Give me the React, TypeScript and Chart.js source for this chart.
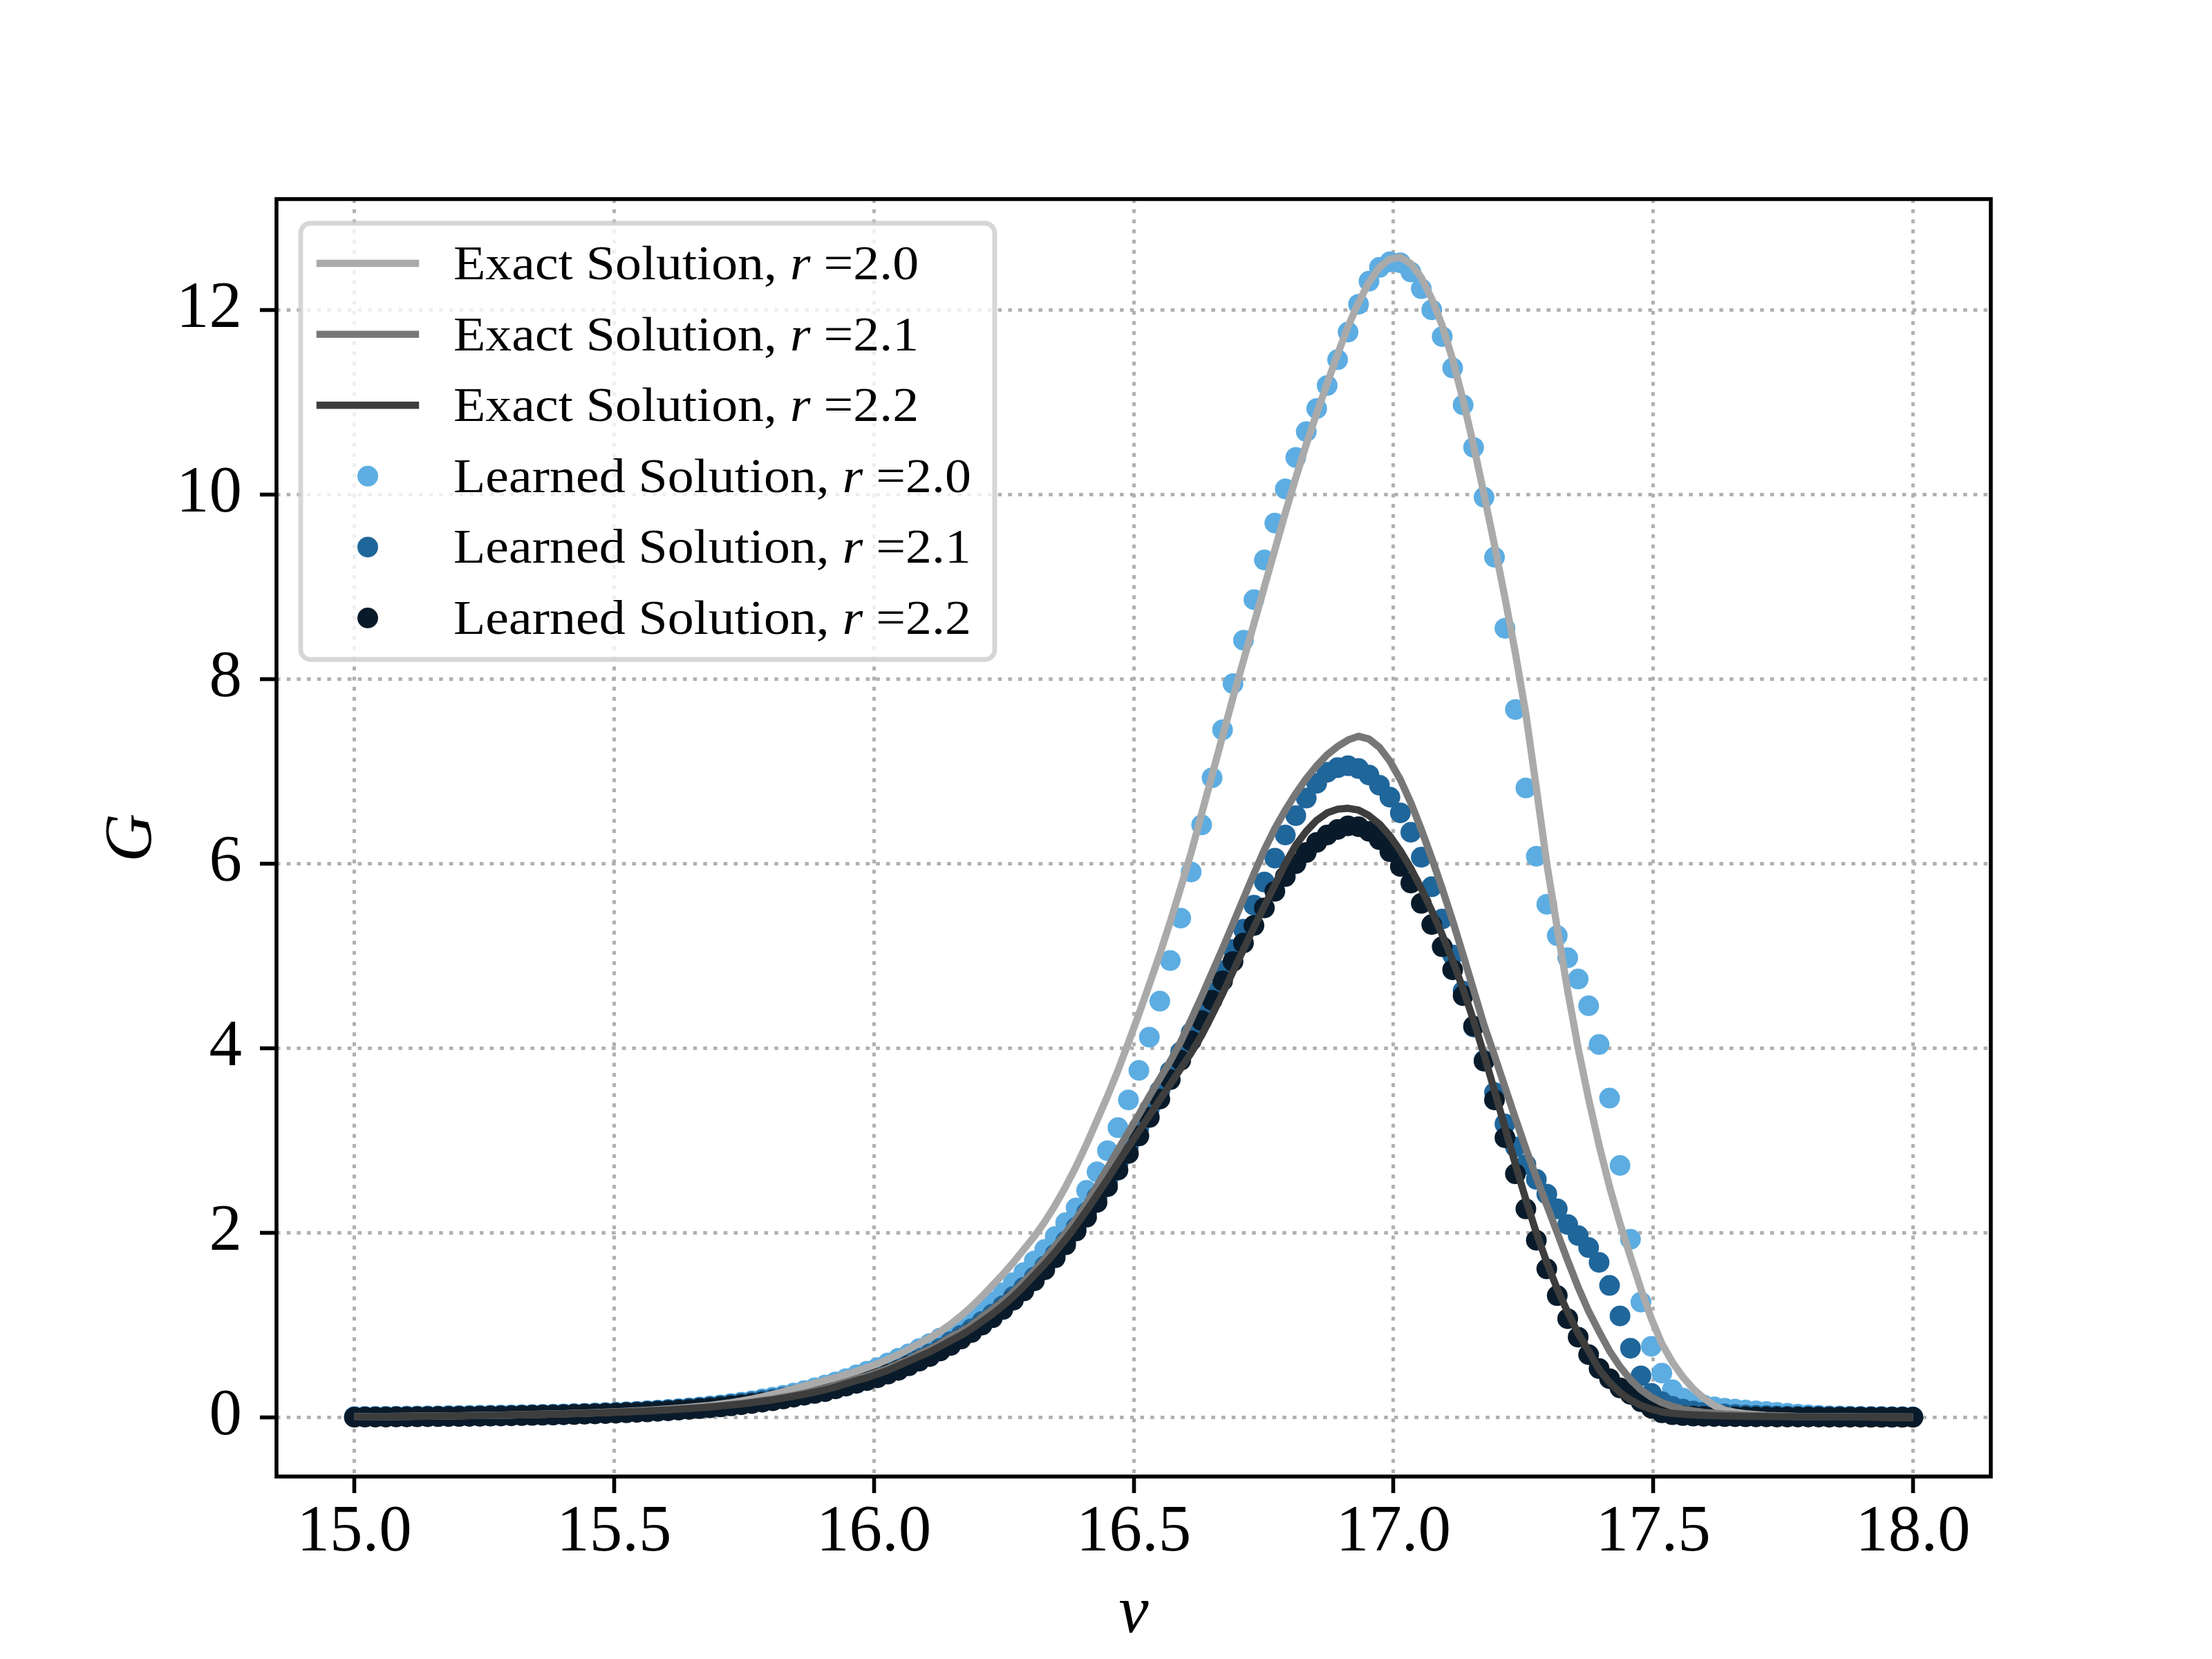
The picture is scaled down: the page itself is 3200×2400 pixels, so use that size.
import React, { useEffect, useRef } from "react";
import { Chart, registerables } from "chart.js";

Chart.register(...registerables);

const FONT = "'Liberation Serif', 'Times New Roman', serif";

// sample grid (150 evenly spaced frequencies)
const NU_START = 15;
const NU_END = 18;
const N_SAMPLES = 150;
const nu: number[] = Array.from(
  { length: N_SAMPLES },
  (_, i) => NU_START + ((NU_END - NU_START) * i) / (N_SAMPLES - 1)
);

const xTickValues = [15, 15.5, 16, 16.5, 17, 17.5, 18];
const yTickValues = [0, 2, 4, 6, 8, 10, 12];
const rLabels = ["2.0", "2.1", "2.2"];

// Exact solutions
const exactR20 = [
  0.008, 0.009, 0.009, 0.01, 0.011, 0.012, 0.013, 0.014, 0.015, 0.017,
  0.018, 0.02, 0.021, 0.023, 0.025, 0.027, 0.029, 0.032, 0.034, 0.037,
  0.04, 0.044, 0.047, 0.051, 0.056, 0.06, 0.066, 0.072, 0.078, 0.085,
  0.092, 0.1, 0.11, 0.12, 0.13, 0.145, 0.16, 0.18, 0.2, 0.225,
  0.25, 0.28, 0.31, 0.34, 0.37, 0.4, 0.43, 0.465, 0.5, 0.54,
  0.58, 0.63, 0.68, 0.74, 0.8, 0.86, 0.93, 1.01, 1.1, 1.2,
  1.31, 1.43, 1.55, 1.68, 1.82, 1.96, 2.12, 2.3, 2.5, 2.72,
  2.96, 3.22, 3.48, 3.76, 4.06, 4.37, 4.69, 5.02, 5.37, 5.74,
  6.12, 6.54, 6.96, 7.38, 7.8, 8.2, 8.6, 9.0, 9.4, 9.8,
  10.18, 10.54, 10.88, 11.2, 11.52, 11.82, 12.08, 12.3, 12.46, 12.55,
  12.57, 12.5, 12.35, 12.12, 11.83, 11.46, 11.02, 10.53, 10.0, 9.45,
  8.88, 8.28, 7.62, 6.82, 6.0, 5.3, 4.62, 4.0, 3.45, 2.95,
  2.5, 2.1, 1.74, 1.39, 1.07, 0.8, 0.6, 0.44, 0.31, 0.21,
  0.13, 0.08, 0.055, 0.04, 0.03, 0.022, 0.017, 0.013, 0.011, 0.009,
  0.008, 0.007, 0.006, 0.006, 0.005, 0.005, 0.004, 0.004, 0.004, 0.003,
];

const exactR21 = [
  0.006, 0.007, 0.008, 0.009, 0.01, 0.012, 0.013, 0.014, 0.015, 0.017,
  0.018, 0.02, 0.021, 0.023, 0.025, 0.027, 0.029, 0.032, 0.034, 0.037,
  0.04, 0.043, 0.046, 0.05, 0.055, 0.059, 0.063, 0.068, 0.074, 0.08,
  0.086, 0.093, 0.1, 0.109, 0.119, 0.129, 0.141, 0.153, 0.168, 0.184,
  0.2, 0.22, 0.24, 0.263, 0.289, 0.315, 0.347, 0.383, 0.42, 0.45,
  0.49, 0.53, 0.58, 0.63, 0.69, 0.74, 0.8, 0.87, 0.93, 1.0,
  1.09, 1.17, 1.26, 1.36, 1.47, 1.59, 1.72, 1.86, 2.0, 2.15,
  2.32, 2.51, 2.7, 2.9, 3.09, 3.28, 3.48, 3.67, 3.86, 4.07,
  4.31, 4.56, 4.82, 5.08, 5.35, 5.62, 5.89, 6.15, 6.38, 6.58,
  6.76, 6.92, 7.06, 7.18, 7.27, 7.34, 7.38, 7.35, 7.26, 7.11,
  6.91, 6.66, 6.37, 6.06, 5.73, 5.38, 5.01, 4.63, 4.25, 3.92,
  3.58, 3.24, 2.91, 2.6, 2.3, 2.0, 1.7, 1.41, 1.15, 0.93,
  0.72, 0.55, 0.41, 0.3, 0.22, 0.16, 0.12, 0.09, 0.07, 0.055,
  0.045, 0.036, 0.03, 0.025, 0.021, 0.018, 0.015, 0.013, 0.011, 0.01,
  0.009, 0.008, 0.007, 0.006, 0.006, 0.005, 0.005, 0.004, 0.004, 0.004,
];

const exactR22 = [
  0.006, 0.007, 0.008, 0.009, 0.01, 0.011, 0.012, 0.013, 0.014, 0.016,
  0.017, 0.019, 0.02, 0.022, 0.024, 0.026, 0.028, 0.03, 0.032, 0.035,
  0.038, 0.041, 0.044, 0.048, 0.052, 0.056, 0.06, 0.065, 0.07, 0.076,
  0.082, 0.089, 0.096, 0.104, 0.113, 0.123, 0.134, 0.146, 0.16, 0.175,
  0.19, 0.21, 0.23, 0.25, 0.275, 0.3, 0.33, 0.365, 0.4, 0.43,
  0.47, 0.51, 0.56, 0.61, 0.66, 0.71, 0.77, 0.83, 0.89, 0.96,
  1.04, 1.12, 1.21, 1.31, 1.42, 1.54, 1.66, 1.79, 1.93, 2.08,
  2.24, 2.41, 2.58, 2.76, 2.93, 3.1, 3.27, 3.44, 3.61, 3.78,
  3.95, 4.14, 4.36, 4.59, 4.83, 5.07, 5.31, 5.54, 5.77, 6.0,
  6.2, 6.35, 6.47, 6.55, 6.59, 6.6, 6.58, 6.52, 6.43, 6.3,
  6.14, 5.95, 5.73, 5.49, 5.23, 4.95, 4.64, 4.3, 3.93, 3.54,
  3.14, 2.74, 2.36, 2.0, 1.68, 1.39, 1.14, 0.91, 0.72, 0.52,
  0.38, 0.27, 0.19, 0.13, 0.09, 0.06, 0.045, 0.035, 0.028, 0.023,
  0.019, 0.016, 0.014, 0.012, 0.011, 0.01, 0.009, 0.008, 0.007, 0.007,
  0.006, 0.006, 0.005, 0.005, 0.005, 0.004, 0.004, 0.004, 0.003, 0.003,
];

// Learned solutions
const learnedR20 = [
  0.01, 0.011, 0.012, 0.013, 0.014, 0.015, 0.016, 0.017, 0.018, 0.02,
  0.021, 0.022, 0.024, 0.025, 0.027, 0.028, 0.03, 0.032, 0.034, 0.036,
  0.038, 0.041, 0.044, 0.048, 0.052, 0.056, 0.061, 0.066, 0.072, 0.079,
  0.086, 0.094, 0.103, 0.113, 0.124, 0.136, 0.15, 0.165, 0.18, 0.2,
  0.22, 0.24, 0.265, 0.29, 0.32, 0.35, 0.385, 0.42, 0.46, 0.5,
  0.54, 0.59, 0.64, 0.69, 0.745, 0.8, 0.86, 0.92, 0.99, 1.07,
  1.15, 1.25, 1.35, 1.46, 1.57, 1.695, 1.82, 1.96, 2.11, 2.27,
  2.46, 2.66, 2.89, 3.14, 3.44, 3.76, 4.12, 4.51, 4.95, 5.41,
  5.91, 6.42, 6.93, 7.45, 7.95, 8.42, 8.86, 9.29, 9.69, 10.06,
  10.4, 10.68, 10.93, 11.18, 11.46, 11.76, 12.06, 12.31, 12.46, 12.52,
  12.51, 12.41, 12.23, 12.0, 11.71, 11.37, 10.97, 10.51, 9.97, 9.32,
  8.55, 7.67, 6.82, 6.08, 5.56, 5.22, 4.98, 4.75, 4.46, 4.04,
  3.46, 2.73, 1.93, 1.25, 0.77, 0.48, 0.3, 0.21, 0.16, 0.135,
  0.115, 0.1, 0.09, 0.08, 0.072, 0.064, 0.055, 0.045, 0.035, 0.028,
  0.022, 0.018, 0.015, 0.013, 0.011, 0.01, 0.009, 0.008, 0.007, 0.006,
];

const learnedR21 = [
  0.004, 0.005, 0.005, 0.006, 0.007, 0.008, 0.009, 0.01, 0.011, 0.012,
  0.013, 0.014, 0.016, 0.018, 0.019, 0.021, 0.023, 0.026, 0.028, 0.031,
  0.034, 0.037, 0.041, 0.045, 0.049, 0.053, 0.058, 0.063, 0.069, 0.075,
  0.082, 0.09, 0.098, 0.107, 0.117, 0.128, 0.14, 0.153, 0.167, 0.183,
  0.2, 0.22, 0.24, 0.26, 0.285, 0.31, 0.34, 0.37, 0.4, 0.43,
  0.46, 0.5, 0.54, 0.59, 0.64, 0.69, 0.75, 0.82, 0.89, 0.96,
  1.04, 1.12, 1.21, 1.31, 1.41, 1.52, 1.64, 1.77, 1.91, 2.06,
  2.22, 2.39, 2.56, 2.75, 2.94, 3.14, 3.34, 3.54, 3.75, 3.96,
  4.17, 4.38, 4.6, 4.84, 5.07, 5.29, 5.55, 5.8, 6.06, 6.31,
  6.52, 6.71, 6.87, 6.99, 7.04, 7.06, 7.03, 6.96, 6.85, 6.72,
  6.55, 6.34, 6.07, 5.75, 5.4, 5.01, 4.62, 4.23, 3.87, 3.52,
  3.18, 2.93, 2.74, 2.58, 2.42, 2.26, 2.09, 1.97, 1.84, 1.68,
  1.43, 1.1, 0.75, 0.45, 0.26, 0.17, 0.12, 0.09, 0.07, 0.055,
  0.045, 0.038, 0.032, 0.027, 0.023, 0.02, 0.018, 0.016, 0.014, 0.012,
  0.011, 0.01, 0.009, 0.008, 0.008, 0.007, 0.007, 0.006, 0.006, 0.005,
];

const learnedR22 = [
  0.003, 0.004, 0.004, 0.005, 0.006, 0.006, 0.007, 0.008, 0.009, 0.01,
  0.011, 0.012, 0.013, 0.015, 0.016, 0.018, 0.02, 0.022, 0.024, 0.026,
  0.029, 0.032, 0.035, 0.038, 0.042, 0.046, 0.05, 0.055, 0.06, 0.066,
  0.072, 0.079, 0.087, 0.095, 0.104, 0.114, 0.125, 0.137, 0.15, 0.165,
  0.18, 0.2, 0.22, 0.24, 0.26, 0.28, 0.31, 0.34, 0.37, 0.4,
  0.43, 0.47, 0.51, 0.56, 0.61, 0.66, 0.72, 0.78, 0.85, 0.92,
  1.0, 1.08, 1.17, 1.27, 1.37, 1.48, 1.6, 1.73, 1.87, 2.02,
  2.17, 2.33, 2.5, 2.68, 2.86, 3.05, 3.25, 3.45, 3.66, 3.87,
  4.08, 4.3, 4.52, 4.73, 4.94, 5.14, 5.33, 5.52, 5.7, 5.86,
  6.0, 6.12, 6.23, 6.31, 6.37, 6.41, 6.4, 6.35, 6.26, 6.13,
  5.97, 5.79, 5.57, 5.34, 5.1, 4.85, 4.57, 4.24, 3.86, 3.44,
  3.03, 2.64, 2.26, 1.92, 1.61, 1.32, 1.07, 0.87, 0.68, 0.53,
  0.42, 0.32, 0.25, 0.17, 0.1, 0.05, 0.03, 0.02, 0.015, 0.012,
  0.01, 0.009, 0.008, 0.007, 0.006, 0.006, 0.005, 0.005, 0.004, 0.004,
  0.004, 0.003, 0.003, 0.003, 0.003, 0.002, 0.002, 0.002, 0.002, 0.002,
];

const exactSeries = [exactR20, exactR21, exactR22];
const learnedSeries = [learnedR20, learnedR21, learnedR22];
const lineColors = ["#aaaaaa", "#777777", "#3d3d3d"];
const dotColors = ["#5dade2", "#1f669b", "#091b2a"];

const toPoints = (ys: number[]) => ys.map((y, i) => ({ x: nu[i], y }));

const framePlugin = {
  id: "axesFrame",
  afterDatasetsDraw(chart: any) {
    const { ctx, chartArea: a } = chart;
    ctx.save();
    ctx.strokeStyle = "#000";
    ctx.lineWidth = 5.6;
    ctx.strokeRect(a.left, a.top, a.right - a.left, a.bottom - a.top);
    ctx.restore();
  },
};

const legendPlugin = {
  id: "boxLegend",
  afterDraw(chart: any) {
    const { ctx, chartArea: a } = chart;
    const bx = a.left + 35;
    const by = a.top + 35;
    const bw = 1004;
    const bh = 631;
    ctx.save();
    ctx.beginPath();
    ctx.roundRect(bx, by, bw, bh, 14);
    ctx.fillStyle = "rgba(255,255,255,0.8)";
    ctx.fill();
    ctx.lineWidth = 6.9;
    ctx.strokeStyle = "rgba(204,204,204,0.8)";
    ctx.stroke();

    const entries: { kind: string; color: string; prefix: string; r: string }[] = [];
    for (let k = 0; k < 3; k++)
      entries.push({ kind: "line", color: lineColors[k], prefix: "Exact Solution, ", r: rLabels[k] });
    for (let k = 0; k < 3; k++)
      entries.push({ kind: "dot", color: dotColors[k], prefix: "Learned Solution, ", r: rLabels[k] });

    const hx0 = bx + 28;
    const hx1 = bx + 166;
    const textX = bx + 221;
    entries.forEach((e, k) => {
      const cy = by + 58 + k * 102.6;
      if (e.kind === "line") {
        ctx.beginPath();
        ctx.moveTo(hx0, cy);
        ctx.lineTo(hx1, cy);
        ctx.lineWidth = 10.4;
        ctx.lineCap = "square";
        ctx.strokeStyle = e.color;
        ctx.stroke();
      } else {
        ctx.beginPath();
        ctx.arc((hx0 + hx1) / 2, cy, 15, 0, Math.PI * 2);
        ctx.fillStyle = e.color;
        ctx.fill();
      }
      ctx.save();
      ctx.translate(textX, cy + 23);
      ctx.scale(1.1, 1);
      ctx.fillStyle = "#000";
      ctx.textAlign = "left";
      ctx.textBaseline = "alphabetic";
      ctx.font = `69px ${FONT}`;
      let x = 0;
      ctx.fillText(e.prefix, x, 0);
      x += ctx.measureText(e.prefix).width;
      ctx.font = `italic 69px ${FONT}`;
      ctx.fillText("r", x, 0);
      x += ctx.measureText("r").width;
      ctx.font = `69px ${FONT}`;
      ctx.fillText(" =" + e.r, x, 0);
      ctx.restore();
    });
    ctx.restore();
  },
};

export default function App() {
  const ref = useRef<HTMLCanvasElement>(null);

  useEffect(() => {
    const canvas = ref.current;
    if (!canvas) return;

    const datasets: any[] = [];
    exactSeries.forEach((ys, k) => {
      datasets.push({
        label: `Exact Solution, r =${rLabels[k]}`,
        data: toPoints(ys),
        showLine: true,
        borderColor: lineColors[k],
        backgroundColor: lineColors[k],
        borderWidth: 10.4,
        borderJoinStyle: "round",
        pointRadius: 0,
        pointHoverRadius: 0,
        tension: 0,
        fill: false,
        order: 3 - k,
      });
    });
    learnedSeries.forEach((ys, k) => {
      datasets.push({
        label: `Learned Solution, r =${rLabels[k]}`,
        data: toPoints(ys),
        showLine: false,
        backgroundColor: dotColors[k],
        borderColor: dotColors[k],
        pointBackgroundColor: dotColors[k],
        pointBorderWidth: 0,
        borderWidth: 0,
        pointRadius: 15,
        pointHoverRadius: 15,
        pointStyle: "circle",
        order: 6 - k,
      });
    });

    const gridCommon = {
      color: "#b0b0b0",
      lineWidth: 5,
      drawTicks: true,
      tickLength: 24,
      tickWidth: 5.6,
      tickColor: "#000",
      tickBorderDash: [],
    };

    const chart = new Chart(canvas, {
      type: "scatter",
      data: { datasets },
      options: {
        responsive: false,
        maintainAspectRatio: false,
        devicePixelRatio: 1,
        animation: false,
        events: [],
        layout: { padding: { left: 0, right: 320, top: 288, bottom: 0 } },
        plugins: { legend: { display: false }, tooltip: { enabled: false } },
        scales: {
          x: {
            type: "linear",
            position: "bottom",
            min: 14.85,
            max: 18.15,
            afterBuildTicks: (s: any) => {
              s.ticks = xTickValues.map((v) => ({ value: v }));
            },
            afterFit: (s: any) => {
              s.height = 264;
            },
            ticks: {
              callback: (v: any) => Number(v).toFixed(1),
              color: "#000",
              font: { family: FONT, size: 95 },
              padding: 1,
              maxRotation: 0,
              minRotation: 0,
              autoSkip: false,
            },
            grid: gridCommon,
            border: { display: false, dash: [5.5, 9.2] },
            title: {
              display: true,
              text: "ν",
              color: "#000",
              font: { family: FONT, size: 97, style: "italic" },
              padding: { top: 0, bottom: 6 },
            },
          },
          y: {
            type: "linear",
            position: "left",
            min: -0.64,
            max: 13.2,
            afterBuildTicks: (s: any) => {
              s.ticks = yTickValues.map((v) => ({ value: v }));
            },
            afterFit: (s: any) => {
              s.width = 400;
            },
            ticks: {
              callback: (v: any) => String(v),
              color: "#000",
              font: { family: FONT, size: 95 },
              padding: 26,
              autoSkip: false,
            },
            grid: gridCommon,
            border: { display: false, dash: [5.5, 9.2] },
            title: {
              display: true,
              text: "G",
              color: "#000",
              font: { family: FONT, size: 97, style: "italic" },
              padding: { top: 134, bottom: 0 },
            },
          },
        },
      } as any,
      plugins: [framePlugin, legendPlugin],
    });

    return () => chart.destroy();
  }, []);

  return (
    <div
      style={{
        position: "absolute",
        left: 0,
        top: 0,
        width: 3200,
        height: 2400,
        background: "#ffffff",
      }}
    >
      <canvas
        ref={ref}
        width={3200}
        height={2400}
        style={{ display: "block", width: 3200, height: 2400 }}
      />
    </div>
  );
}
